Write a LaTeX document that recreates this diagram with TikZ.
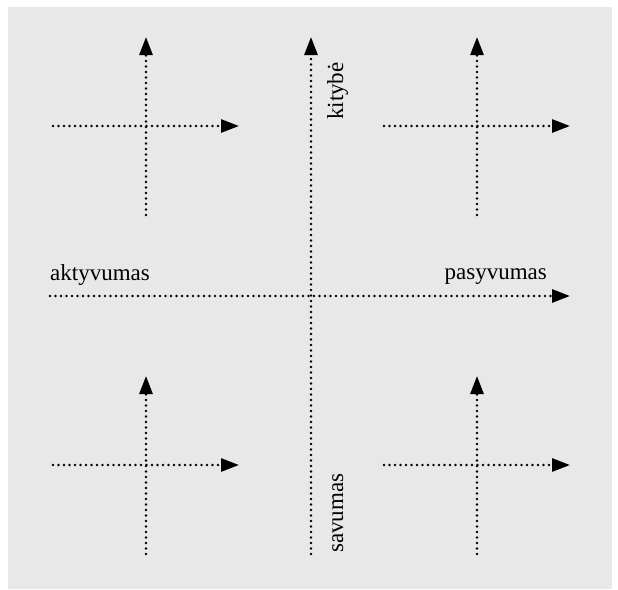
\documentclass[tikz,border=0pt]{standalone}
\usepackage{fontspec}
\setmainfont{Liberation Serif}
\usetikzlibrary{arrows.meta}
\definecolor{panel}{HTML}{E8E8E8}
\tikzset{
 dotline/.style={line width=2.8pt,line cap=round,dash pattern=on 0pt off 5.5pt,
  -{Triangle[length=18pt,width=13pt]}},
 axislabel/.style={font=\fontsize{23}{23}\selectfont,inner sep=0pt}
}
\begin{document}
\begin{tikzpicture}[x=1pt,y=-1pt]
 \useasboundingbox (0,0) rectangle (618,589);
 \fill[panel] (8,7) rectangle (612,589);
 % main cross
 \coordinate (west) at (50,296);
 \coordinate (east) at (570,296);
 \coordinate (south) at (311,554);
 \coordinate (north) at (311,37);
 \draw[dotline] (west)--(east);
 \draw[dotline] (south)--(north);
 \node[axislabel,anchor=base west] (akt) at (50,280) {aktyvumas};
 \node[axislabel,anchor=base east] (pas) at (547,279) {pasyvumas};
 \node[axislabel,rotate=90,anchor=base west] (kit) at (343,120) {kitybė};
 \node[axislabel,rotate=90,anchor=base west] (sav) at (343,553) {savumas};
 % small crosses
 \foreach \n/\cx/\cy in {tl/146/126,tr/477/126,bl/146/465,br/477/465} {
  \begin{scope}[shift={(\cx,\cy)}]
   \coordinate (\n-w) at (-93,0);
   \coordinate (\n-e) at (93,0);
   \coordinate (\n-s) at (0,89);
   \coordinate (\n-n) at (0,-89);
   \draw[dotline] (\n-w)--(\n-e);
   \draw[dotline] (\n-s)--(\n-n);
  \end{scope}
 }
\end{tikzpicture}
\end{document}
